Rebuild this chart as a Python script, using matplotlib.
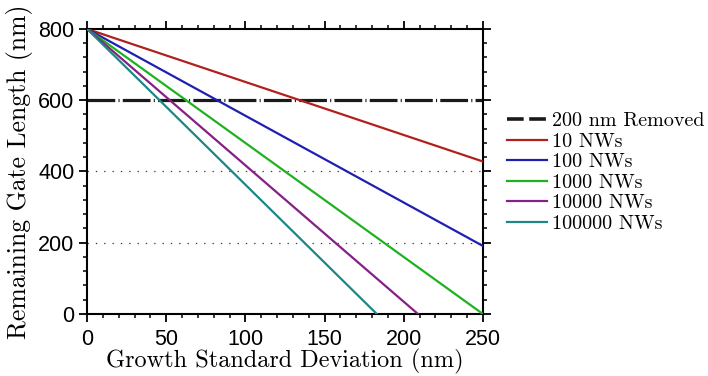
import matplotlib
matplotlib.use("Agg")
import matplotlib.pyplot as plt
from matplotlib.lines import Line2D
from matplotlib.ticker import MultipleLocator

# ----------------------------------------
# Data: remaining gate length vs growth std dev
# each line starts at (0, 800) and runs straight to its end point
# ----------------------------------------
sigma_start = 0
gate_start = 800
labels = ["10 NWs", "100 NWs", "1000 NWs", "10000 NWs", "100000 NWs"]
sigma_end = [250, 250, 250, 209, 183]
gate_end = [428, 191, 0, 0, 0]
colors = ["#b21f1f", "#1f1fb2", "#1fb21f", "#861f86", "#1f8686"]

removed_level = 600
grid_levels = [200, 400]

plt.rcParams["lines.scale_dashes"] = False

fig = plt.figure(figsize=(7.08, 3.76), dpi=100)
ax = fig.add_axes([0.123, 0.165, 0.559, 0.758])

# dotted reference lines
for g in grid_levels:
    ax.axhline(g, color="0.25", lw=0.9, linestyle=(0, (1, 5)), zorder=1)

# 200 nm removed line (dash-dot)
ax.axhline(removed_level, color="#1a1a1a", lw=2.3,
           linestyle=(0, (20, 2.3, 0.8, 2.3)), dash_capstyle="butt", zorder=2)

handles = [Line2D([], [], color="#1a1a1a", lw=2.6, linestyle=(0, (12, 4)))]
for lab, xe, ye, c in zip(labels, sigma_end, gate_end, colors):
    h, = ax.plot([sigma_start, xe], [gate_start, ye], color=c, lw=1.6,
                 label=lab, zorder=3)
    handles.append(h)

ax.set_xlim(0, 250)
ax.set_ylim(0, 800)
ax.xaxis.set_major_locator(MultipleLocator(50))
ax.xaxis.set_minor_locator(MultipleLocator(10))
ax.yaxis.set_major_locator(MultipleLocator(200))
ax.yaxis.set_minor_locator(MultipleLocator(40))

for s in ax.spines.values():
    s.set_linewidth(1.5)
ax.tick_params(which="both", direction="out", top=True, right=True,
               labeltop=False, labelright=False)
ax.tick_params(which="major", length=6, width=1.3, pad=3)
ax.tick_params(axis="x", which="major", pad=5)
ax.tick_params(which="minor", length=3, width=1.1)
for t in ax.get_xticklabels() + ax.get_yticklabels():
    t.set_fontfamily("Liberation Sans")
    t.set_fontsize(15.5)

ax.set_xlabel("Growth Standard Deviation (nm)", fontfamily="cmr10",
              fontsize=17.5, labelpad=-1)
ax.set_ylabel("Remaining Gate Length (nm)", fontfamily="cmr10",
              fontsize=18.5, labelpad=4)

leg = fig.legend(handles, ["200 nm Removed"] + labels, loc="upper left",
                 bbox_to_anchor=(0.716, 0.702), frameon=False,
                 prop={"family": "cmr10", "size": 14.5}, handlelength=2.0,
                 handletextpad=0.25, labelspacing=0.12, borderpad=0,
                 borderaxespad=0)

fig.savefig("out.png", dpi=100)
